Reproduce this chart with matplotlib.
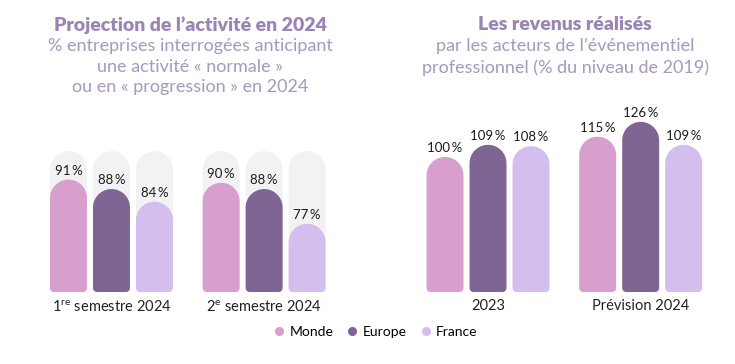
import numpy as np
import matplotlib.pyplot as plt
from matplotlib.patches import Polygon
from matplotlib.lines import Line2D

plt.rcParams['font.family'] = ['Lato', 'DejaVu Sans']
plt.rcParams['mathtext.fontset'] = 'custom'
plt.rcParams['mathtext.rm'] = 'Lato'

# data
series = ['Monde', 'Europe', 'France']
colors = ['#d89ece', '#7f6594', '#d3beef']
track_color = '#f2f2f2'

periods_activite = ['1$^{\\mathrm{re}}$ semestre 2024', '2$^{\\mathrm{e}}$ semestre 2024']
monde_activite = [91, 90]
europe_activite = [88, 88]
france_activite = [84, 77]
track_max = 100

periods_revenus = ['2023', 'Prévision 2024']
monde_revenus = [100, 115]
europe_revenus = [109, 126]
france_revenus = [108, 109]

W, H = 735, 364
fig = plt.figure(figsize=(W / 100, H / 100), dpi=100)

title_color = '#9a84b3'
sub_color = '#a798bd'


def bar_shape(x0, y0, w, h, sx, sy, rb_px=4):
    """Bar with a round top and slightly rounded bottom corners,
    drawn in data units but circular in pixels."""
    rx = w / 2
    ry = rx * sx / sy
    bx, by = rb_px / sx, rb_px / sy
    pts = []
    t = np.linspace(-np.pi / 2, 0, 10)
    pts += list(zip(x0 + w - bx + bx * np.cos(t), y0 + by + by * np.sin(t)))
    t = np.linspace(0, np.pi, 50)
    pts += list(zip(x0 + w / 2 + rx * np.cos(t), y0 + h - ry + ry * np.sin(t)))
    t = np.linspace(np.pi, 1.5 * np.pi, 10)
    pts += list(zip(x0 + bx + bx * np.cos(t), y0 + by + by * np.sin(t)))
    return pts


def round_bars(ax, rects, color):
    xl, yl = ax.get_xlim(), ax.get_ylim()
    sx = ax.bbox.width / (xl[1] - xl[0])
    sy = ax.bbox.height / (yl[1] - yl[0])
    for r in rects:
        r.set_visible(False)
        pts = bar_shape(r.get_x(), r.get_y(), r.get_width(), r.get_height(), sx, sy)
        ax.add_patch(Polygon(pts, closed=True, facecolor=color, lw=0))


def grouped(ax, values, labels, base, tracks=False):
    centers = np.arange(len(labels)) * 3.55
    width = 0.86
    for i, (vals, col) in enumerate(zip(values, colors)):
        x = centers + (i - 1)
        if tracks:
            tr = ax.bar(x, [track_max - base] * len(x), width, bottom=base)
            round_bars(ax, tr, track_color)
        bars = ax.bar(x, np.array(vals) - base, width, bottom=base)
        round_bars(ax, bars, col)
        for xi, v in zip(x, vals):
            ax.annotate(f'{v}\u2009%', (xi, v), xytext=(0, 2), textcoords='offset points',
                        ha='center', va='bottom', fontsize=9.5, color='#1a1a1a')
    ax.set_xticks(centers, labels, fontsize=10.5, color='#222222')
    ax.tick_params(axis='x', length=0, pad=5)
    ax.set_yticks([])
    for s in ax.spines.values():
        s.set_visible(False)


# left: activity projection
ax1 = fig.add_axes([30 / W, 72 / H, 320 / W, 192 / H])
ax1.set_xlim(-1.895, 5.547)
ax1.set_ylim(55.4, 116.2)
grouped(ax1, [monde_activite, europe_activite, france_activite], periods_activite, 55.4, tracks=True)

# right: revenues
ax2 = fig.add_axes([380 / W, 72 / H, 340 / W, 192 / H])
ax2.set_xlim(-2.512, 5.395)
ax2.set_ylim(0, 142.2)
grouped(ax2, [monde_revenus, europe_revenus, france_revenus], periods_revenus, 0)

# titles
fig.text(190 / W, 1 - 25 / H, "Projection de l\u2019activité en 2024", ha='center', va='center',
         fontsize=14, fontweight='heavy', color=title_color)
fig.text(190 / W, 1 - 38 / H, "% entreprises interrogées anticipant\nune activité « normale »\nou en « progression » en 2024",
         ha='center', va='top', fontsize=13, color=sub_color, linespacing=1.35)
fig.text(565 / W, 1 - 25 / H, "Les revenus réalisés", ha='center', va='center',
         fontsize=14, fontweight='heavy', color=title_color)
fig.text(565 / W, 1 - 38 / H, "par les acteurs de l\u2019événementiel\nprofessionnel (% du niveau de 2019)",
         ha='center', va='top', fontsize=13, color=sub_color, linespacing=1.35)

handles = [Line2D([], [], marker='o', ls='', color=c, markersize=5.5, label=s) for s, c in zip(series, colors)]
fig.legend(handles=handles, loc='center', bbox_to_anchor=(376 / W, 1 - 332 / H), ncol=3, frameon=False,
           fontsize=10, handlelength=0.7, handletextpad=0.4, columnspacing=1.0)

fig.savefig('out.png', dpi=100)
